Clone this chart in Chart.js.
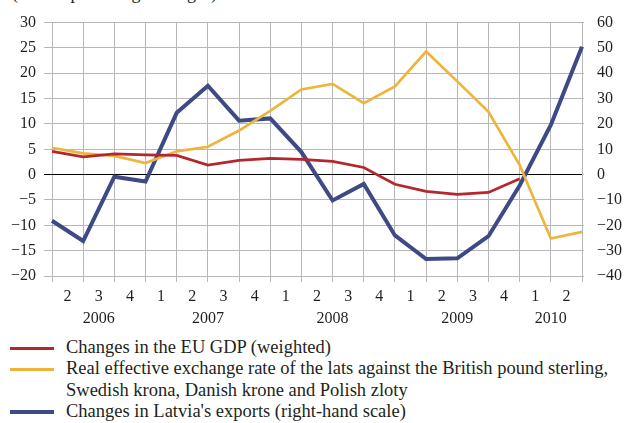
<!DOCTYPE html>
<html>
<head>
<meta charset="utf-8">
<script src="https://cdn.jsdelivr.net/npm/chart.js@4/dist/chart.umd.min.js"></script>
<style>
  body { margin: 0; background: #fff; }
  #wrap { position: relative; width: 624px; height: 423px; overflow: hidden; font-family: "Liberation Serif", serif; color: #231f20; }
  #note { position: absolute; left: 12px; top: -17px; font-size: 18px; white-space: nowrap; }
  #box { position: absolute; left: 0; top: 0; width: 624px; height: 330px; }
  #legend { position: absolute; left: 0; top: 337px; font-size: 18.5px; line-height: 21.3px; }
  .row { position: relative; padding-left: 66px; white-space: nowrap; }
  .row i { position: absolute; left: 10px; top: 11px; width: 44px; }
</style>
</head>
<body>
<div id="wrap">
  <div id="note">(annual percentage changes)</div>
  <div id="box"><canvas id="chart"></canvas></div>
  <div id="legend"></div>
</div>
<script>
// quarters 2006 Q1 ... 2010 Q2 (points sit on the grid lines)
const periods = ["06Q1", "06Q2", "06Q3", "06Q4", "07Q1", "07Q2", "07Q3", "07Q4", "08Q1", "08Q2", "08Q3", "08Q4", "09Q1", "09Q2", "09Q3", "09Q4", "10Q1", "10Q2"];
// labels shown between grid lines
const quarterLabels = ["2", "3", "4", "1", "2", "3", "4", "1", "2", "3", "4", "1", "2", "3", "4", "1", "2"];
const years = ["2006", "2007", "2008", "2009", "2010"];
const quartersPerYear = [3, 4, 4, 4, 2];

const euGdp = [4.6, 3.5, 4.1, 3.9, 3.8, 1.9, 2.8, 3.2, 3.0, 2.6, 1.4, -1.9, -3.3, -3.9, -3.5, -0.8, null, null];
const reer = [5.3, 4.2, 3.7, 2.3, 4.6, 5.5, 8.7, 12.6, 16.8, 17.9, 14.1, 17.4, 24.3, 18.4, 12.4, 1.9, -12.6, -11.3];
const exportsLv = [-18.2, -26.2, -0.8, -2.7, 24.4, 35.1, 21.3, 22.2, 8.9, -10.2, -3.7, -24.0, -33.3, -33.0, -24.3, -4.3, 19.6, 50.5];

const leftMin = -20, leftMax = 30, leftStep = 5;
const rightMin = -40, rightMax = 60, rightStep = 10;

const seriesNames = [
    "Changes in the EU GDP (weighted)",
    "Real effective exchange rate of the lats against the British pound sterling,<br>Swedish krona, Danish krone and Polish zloty",
    "Changes in Latvia's exports (right-hand scale)"
];
const colors = ["#b5262e", "#efb43b", "#3d4a86"];
const widths = [2.7, 2.7, 4];

const font = { family: "'Liberation Serif', serif", size: 16 };
const gridGray = "#b7b7b7";
const minus = v => String(v).replace("-", "\u2212");

// year label positions: middle of each group of quarter labels
const yearPos = [];
let start = 0;
quartersPerYear.forEach(n => {
    yearPos.push(start + n / 2);
    start += n;
});

const ctx = document.getElementById("chart").getContext("2d");
const chart = new Chart(ctx, {
    type: "line",
    data: {
        labels: periods,
        datasets: [
            { label: "eu", data: euGdp, yAxisID: "y", borderColor: colors[0], borderWidth: widths[0] },
            { label: "reer", data: reer, yAxisID: "y", borderColor: colors[1], borderWidth: widths[1] },
            { label: "exp", data: exportsLv, yAxisID: "y2", borderColor: colors[2], borderWidth: widths[2] }
        ]
    },
    options: {
        responsive: true,
        maintainAspectRatio: false,
        animation: false,
        events: [],
        layout: { padding: { top: 17, left: 0, right: 0, bottom: 0 } },
        elements: { point: { radius: 0 }, line: { tension: 0, borderCapStyle: "butt", borderJoinStyle: "miter" } },
        plugins: { legend: { display: false }, tooltip: { enabled: false } },
        scales: {
            x: {
                type: "category",
                offset: false,
                weight: 0,
                border: { display: false },
                grid: { color: gridGray, lineWidth: 1, tickLength: 6 },
                ticks: { display: false },
                afterFit: s => { s.height = 6; }
            },
            xq: {
                type: "linear",
                position: "bottom",
                min: 0,
                max: periods.length - 1,
                weight: 1,
                border: { display: false },
                grid: { display: false, drawTicks: false },
                afterBuildTicks: s => { s.ticks = quarterLabels.map((q, i) => ({ value: i + 0.5 })); },
                ticks: { font: font, color: "#231f20", padding: 5, maxRotation: 0, autoSkip: false,
                         callback: (v, i) => quarterLabels[i] },
                afterFit: s => { s.height = 22; }
            },
            xy: {
                type: "linear",
                position: "bottom",
                min: 0,
                max: periods.length - 1,
                weight: 2,
                border: { display: false },
                grid: { display: false, drawTicks: false },
                afterBuildTicks: s => { s.ticks = yearPos.map(p => ({ value: p })); },
                ticks: { font: font, color: "#231f20", padding: 5, maxRotation: 0, autoSkip: false,
                         callback: (v, i) => years[i] },
                afterFit: s => { s.height = 26; }
            },
            y: {
                position: "left",
                min: leftMin,
                max: leftMax,
                border: { display: false },
                grid: {
                    color: c => c.tick && c.tick.value === 0 ? "#000" : gridGray,
                    lineWidth: 1,
                    tickLength: 8
                },
                ticks: { stepSize: leftStep, font: font, color: "#231f20", padding: 8, callback: minus },
                afterFit: s => { s.width = 52; }
            },
            y2: {
                position: "right",
                min: rightMin,
                max: rightMax,
                border: { display: false },
                grid: { drawOnChartArea: false, color: gridGray, tickLength: 2 },
                ticks: { stepSize: rightStep, font: font, color: "#231f20", padding: 13, callback: minus },
                afterFit: s => { s.width = 42; }
            }
        }
    }
});

// legend below the chart
const legend = document.getElementById("legend");
seriesNames.forEach((name, i) => {
    const row = document.createElement("div");
    row.className = "row";
    row.innerHTML = '<i style="border-top:' + (i === 2 ? 4 : 3) + 'px solid ' + colors[i] + ';margin-top:' + (i === 2 ? -2 : -1.5) + 'px"></i>' + name;
    legend.appendChild(row);
});
</script>
</body>
</html>
